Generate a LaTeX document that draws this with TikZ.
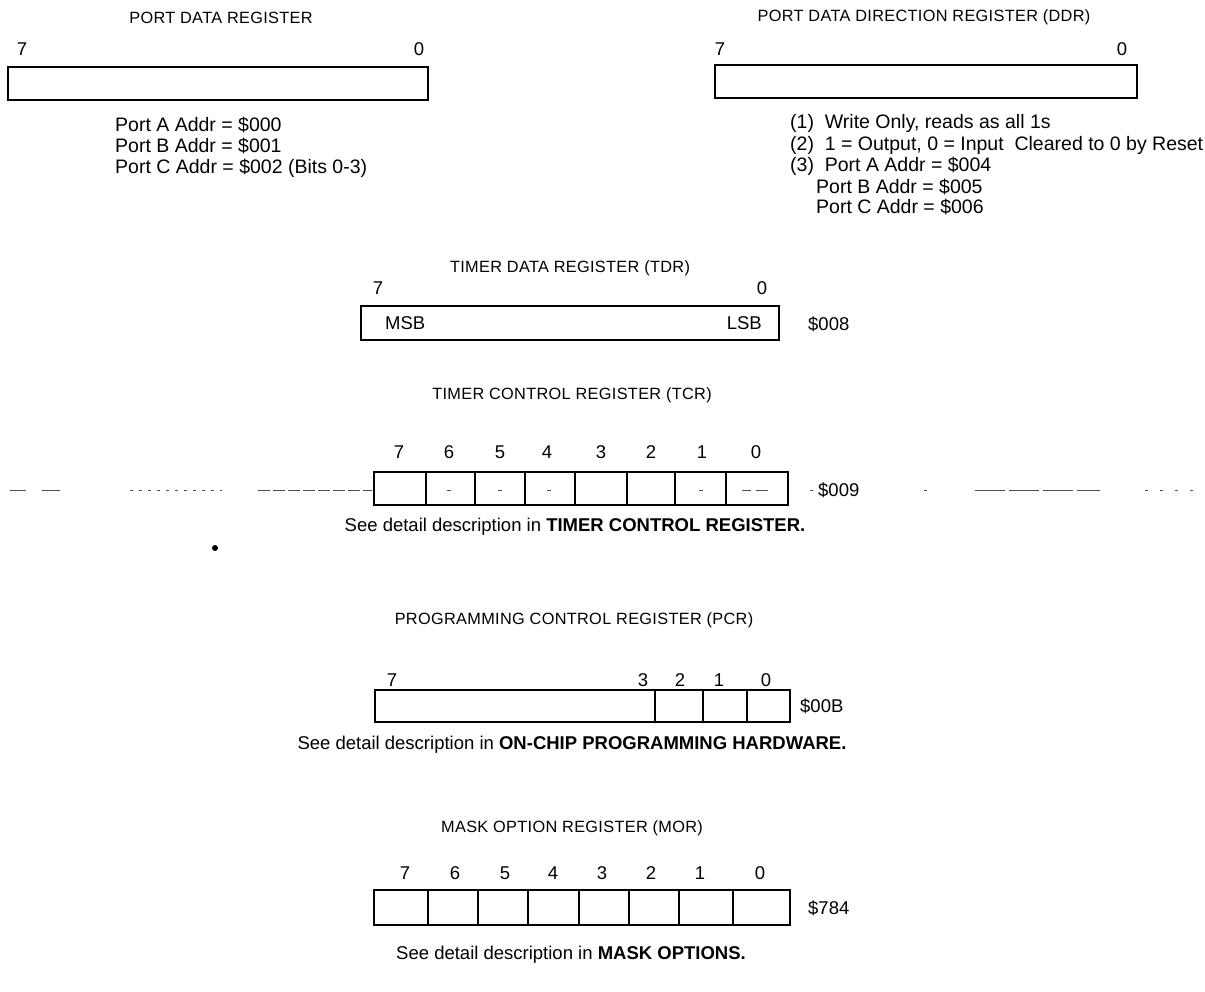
\documentclass[tikz,border=0pt]{standalone}
\usepackage{fontspec}
\setmainfont{Liberation Sans}
\begin{document}
\begin{tikzpicture}[x=1pt,y=-1pt,
  reg/.style={draw, line width=1.7pt},
  cell/.style={draw, line width=1.5pt},
  ttl/.style={font=\fontsize{16.3}{18}\selectfont\addfontfeatures{LetterSpace=2}, inner sep=0pt},
  txt/.style={font=\fontsize{18.5}{20}\selectfont, inner sep=0pt},
  ptxt/.style={font=\fontsize{19.5}{21}\selectfont, inner sep=0pt},
  bit/.style={font=\fontsize{18.5}{20}\selectfont, inner sep=0pt},
  scan/.style={draw=black!70, line width=1pt},
]
\useasboundingbox (0,0) rectangle (1205,992);

% ---------- PORT DATA REGISTER ----------
\node[ttl] (pdrT) at (221,18) {PORT DATA REGISTER};
\node[bit] (pdr7) at (22,49) {7};
\node[bit] (pdr0) at (419,49) {0};
\draw[reg] (8,67) rectangle (428,100);
\node[ptxt, anchor=west] (pdrA) at (115,125) {Port A Addr = \$000};
\node[ptxt, anchor=west] (pdrB) at (115,146) {Port B Addr = \$001};
\node[ptxt, anchor=west] (pdrC) at (115,168) {Port C Addr = \$002 (Bits 0-3)};

% ---------- DDR ----------
\node[ttl] (ddrT) at (924,17) {PORT DATA DIRECTION REGISTER (DDR)};
\node[bit] (ddr7) at (720,49) {7};
\node[bit] (ddr0) at (1122,49) {0};
\draw[reg] (715,65) rectangle (1137,98);
\node[ptxt, anchor=west] (ddr1) at (790,123) {(1)\ \ Write Only, reads as all 1s};
\node[ptxt, anchor=west] (ddr2) at (790,145) {(2)\ \ 1 = Output, 0 = Input\ \ Cleared to 0 by Reset};
\node[ptxt, anchor=west] (ddr3) at (790,166) {(3)\ \ Port A Addr = \$004};
\node[ptxt, anchor=west] (ddrB) at (816,187) {Port B Addr = \$005};
\node[ptxt, anchor=west] (ddrC) at (816,207) {Port C Addr = \$006};

% ---------- TDR ----------
\node[ttl] (tdrT) at (570,268) {TIMER DATA REGISTER (TDR)};
\node[bit] (tdr7) at (378,288) {7};
\node[bit] (tdr0) at (762,288) {0};
\draw[reg] (361,306) rectangle (779,340);
\node[txt, anchor=west] (msb) at (385,323) {MSB};
\node[txt, anchor=east] (lsb) at (762,323) {LSB};
\node[txt, anchor=west] (tdrA) at (808,324) {\$008};

% ---------- TCR ----------
\node[ttl] (tcrT) at (572,395) {TIMER CONTROL REGISTER (TCR)};
\foreach \b/\x in {7/399,6/449,5/500,4/547,3/601,2/651,1/702,0/756}
  \node[bit] (tcr\b) at (\x,452) {\b};
\draw[reg] (374,472) rectangle (788,505);
\foreach \x in {426,475,525,575,627,675,726}
  \draw[cell] (\x,472) -- (\x,505);
\node[txt, anchor=west] (tcrA) at (818,490) {\$009};
% broken scan line through the register
\draw[scan] (10,490) -- (26,490) (42,490) -- (60,490);
\draw[scan, dash pattern=on 3pt off 6pt] (130,490) -- (222,490);
\draw[scan, dash pattern=on 12pt off 3pt] (258,490) -- (372,490);
\draw[scan] (447,490) -- (451,490) (498,490) -- (502,490) (547,490) -- (551,490) (699,490) -- (703,490);
\draw[scan] (742,490) -- (751,490) (756,490) -- (768,490);
\draw[scan] (810,490) -- (813,490);
\draw[scan] (924,490) -- (927,490);
\draw[scan, dash pattern=on 30pt off 4pt] (975,490) -- (1100,490);
\draw[scan, dash pattern=on 3pt off 12pt] (1145,490) -- (1205,490);
\node[txt] (tcrNote) at (575,527) {See detail description in \textbf{TIMER CONTROL REGISTER.}};
\fill (215,548) circle (3pt);

% ---------- PCR ----------
\node[ttl] (pcrT) at (574,620) {PROGRAMMING CONTROL REGISTER (PCR)};
\foreach \b/\x in {7/392,3/643,2/680,1/719,0/766}
  \node[bit] (pcr\b) at (\x,680) {\b};
\draw[reg] (375,690) rectangle (790,722);
\foreach \x in {655,703,747}
  \draw[cell] (\x,690) -- (\x,722);
\node[txt, anchor=west] (pcrA) at (800,706) {\$00B};
\node[txt] (pcrNote) at (572,745) {See detail description in \textbf{ON-CHIP PROGRAMMING HARDWARE.}};

% ---------- MOR ----------
\node[ttl] (morT) at (572,828) {MASK OPTION REGISTER (MOR)};
\foreach \b/\x in {7/405,6/455,5/505,4/553,3/602,2/651,1/700,0/760}
  \node[bit] (mor\b) at (\x,873) {\b};
\draw[reg] (374,890) rectangle (790,925);
\foreach \x in {428,478,528,579,629,679,733}
  \draw[cell] (\x,890) -- (\x,925);
\node[txt, anchor=west] (morA) at (808,908) {\$784};
\node[txt] (morNote) at (571,955) {See detail description in \textbf{MASK OPTIONS.}};
\end{tikzpicture}
\end{document}
